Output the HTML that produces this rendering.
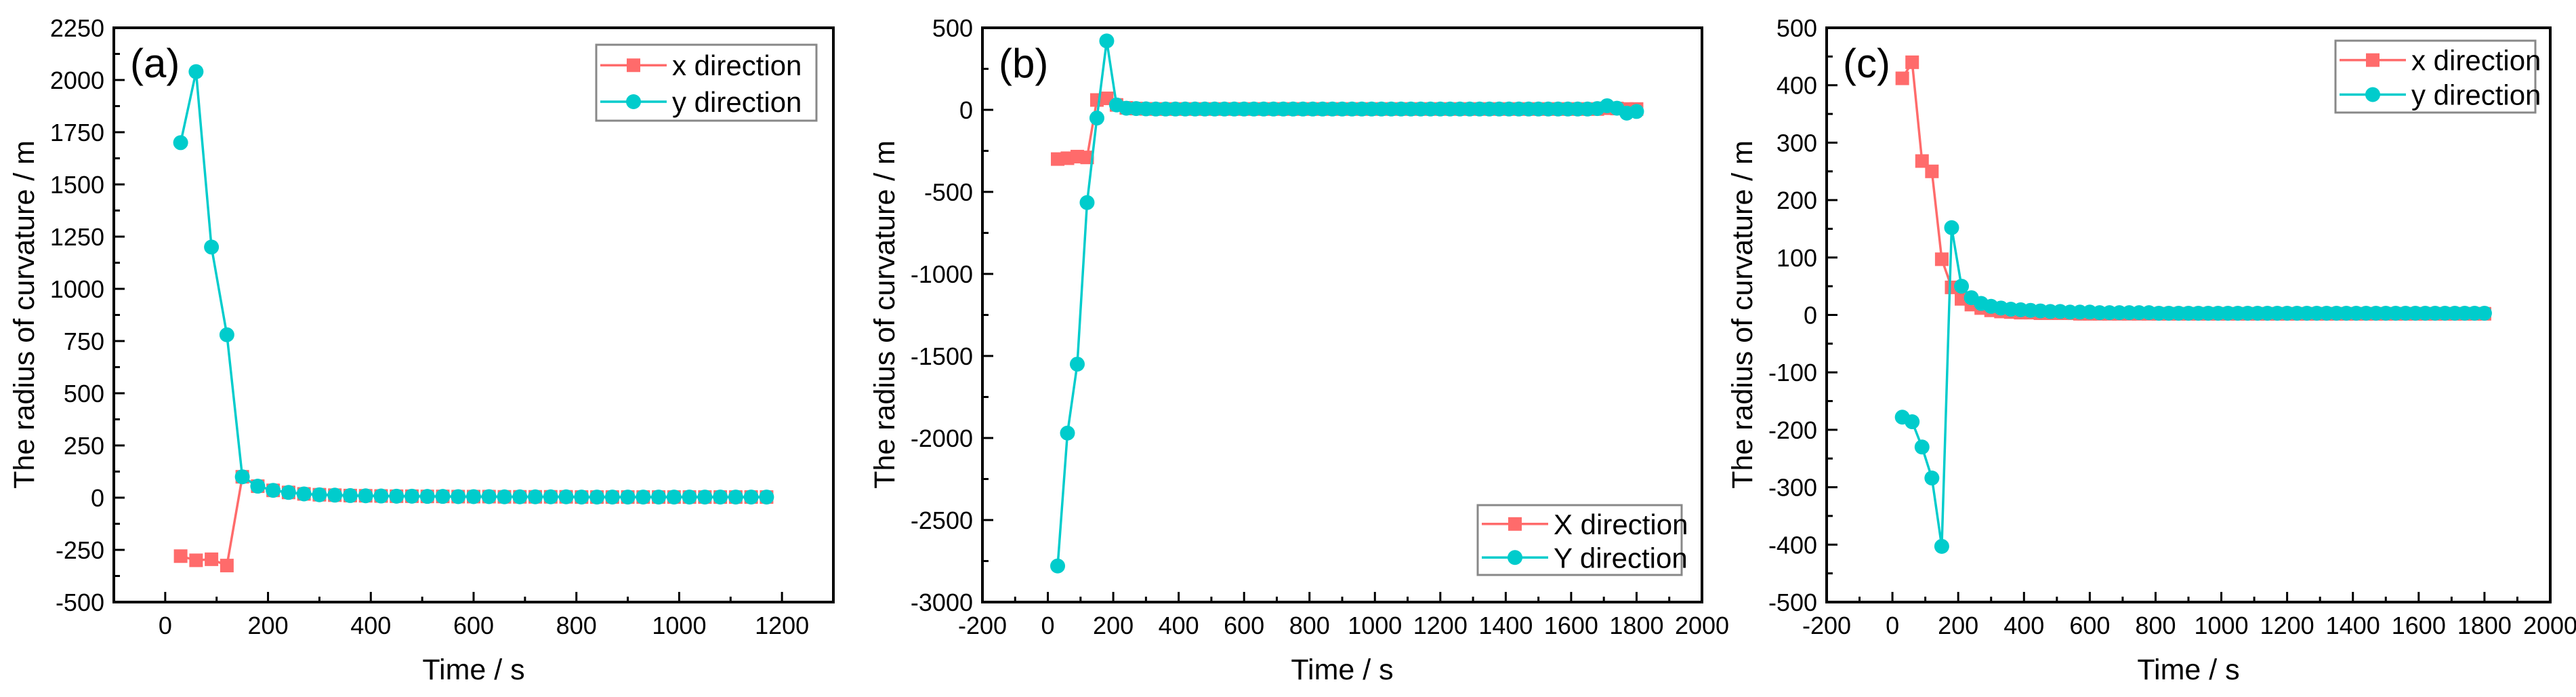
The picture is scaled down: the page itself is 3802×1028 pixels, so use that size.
<!DOCTYPE html>
<html><head><meta charset="utf-8"><style>
html,body{margin:0;padding:0;background:#fff;overflow:hidden;}
svg{display:block;}
text{font-family:"Liberation Sans",Arial,sans-serif;fill:#000;}
</style></head>
<body>
<svg id="fig" width="3802" height="1028" viewBox="0 0 3802 1028" xmlns="http://www.w3.org/2000/svg"></svg>
<script>
// ---- data ----
const timeA = [30,60,90,120,150,180,210,240,270,300,330,360,390,420,450,480,510,540,570,600,630,660,690,720,750,780,810,840,870,900,930,960,990,1020,1050,1080,1110,1140,1170];
const aX = [-280,-300,-295,-325,100,55,35,25,18,14,12,10,9,8,7,7,6,6,5,5,5,4,4,4,4,4,3,3,3,3,3,3,3,3,3,3,3,3,3];
const aY = [1700,2040,1200,780,100,55,35,25,18,14,12,10,9,8,7,7,6,6,5,5,5,4,4,4,4,4,3,3,3,3,3,3,3,3,3,3,3,3,3];

const timeBC = [30,60,90,120,150,180,210,240,270,300,330,360,390,420,450,480,510,540,570,600,630,660,690,720,750,780,810,840,870,900,930,960,990,1020,1050,1080,1110,1140,1170,1200,1230,1260,1290,1320,1350,1380,1410,1440,1470,1500,1530,1560,1590,1620,1650,1680,1710,1740,1770,1800];
const bX = [-300,-295,-285,-290,60,70,30,12,8,6,5,5,5,5,5,5,5,5,5,5,5,5,5,5,5,5,5,5,5,5,5,5,5,5,5,5,5,5,5,5,5,5,5,5,5,5,5,5,5,5,5,5,5,5,5,5,10,8,5,5];
const bY = [-2780,-1970,-1550,-565,-50,420,30,10,8,6,5,5,5,5,5,5,5,5,5,5,5,5,5,5,5,5,5,5,5,5,5,5,5,5,5,5,5,5,5,5,5,5,5,5,5,5,5,5,5,5,5,5,5,5,5,8,25,10,-20,-10];
const cX = [412,440,268,250,97,48,28,18,12,8,6,5,4,4,3,3,3,3,2,2,2,2,2,2,2,2,2,2,2,2,2,2,2,2,2,2,2,2,2,2,2,2,2,2,2,2,2,2,2,2,2,2,2,2,2,2,2,2,2,2];
const cY = [-178,-186,-230,-284,-403,152,50,30,20,15,12,10,9,8,7,6,6,5,5,5,4,4,4,4,4,4,3,3,3,3,3,3,3,3,3,3,3,3,3,3,3,3,3,3,3,3,3,3,3,3,3,3,3,3,3,3,3,3,3,3];

const ticksA_x = [0,200,400,600,800,1000,1200];
const ticksA_y = [-500,-250,0,250,500,750,1000,1250,1500,1750,2000,2250];
const ticksBC_x = [-200,0,200,400,600,800,1000,1200,1400,1600,1800,2000];
const ticksB_y = [-3000,-2500,-2000,-1500,-1000,-500,0,500];
const ticksC_y = [-500,-400,-300,-200,-100,0,100,200,300,400,500];

const RED = '#FF6B6B', CYAN = '#00CCCC';
const NS = 'http://www.w3.org/2000/svg';
const svg = document.getElementById('fig');
function mk(tag, attrs, parent){ const e=document.createElementNS(NS,tag); for(const k in attrs) e.setAttribute(k,attrs[k]); (parent||svg).appendChild(e); return e; }

function panel(cfg){
  const g = mk('g',{});
  
  
  const L=cfg.left,R=cfg.right,T=41,B=888;
  const sx = v => L + (v-cfg.xmin)/(cfg.xmax-cfg.xmin)*(R-L);
  const sy = v => B - (v-cfg.ymin)/(cfg.ymax-cfg.ymin)*(B-T);
  const tg = mk('g',{},g);
  
  
  const xstep = cfg.xt[1]-cfg.xt[0];
  cfg.xt.forEach((v,i)=>{
    const x=sx(v);
    mk('line',{x1:x,x2:x,y1:B,y2:B-15,stroke:'#000','stroke-width':3},tg);
    if(i<cfg.xt.length-1){ const xm=sx(v+xstep/2); mk('line',{x1:xm,x2:xm,y1:B,y2:B-8,stroke:'#000','stroke-width':3},tg); }
    const t=mk('text',{x:x,y:935,'font-size':36,'text-anchor':'middle'},tg);
    t.textContent=v;
    
    
  });
  if(cfg.id==='a'){ const xm=sx(-100); mk('line',{x1:xm,x2:xm,y1:B,y2:B-8,stroke:'#000','stroke-width':3},tg); }
  const yg = mk('g',{},g);
  
  
  const ystep = cfg.yt[1]-cfg.yt[0];
  cfg.yt.forEach((v,i)=>{
    const y=sy(v);
    mk('line',{x1:L,x2:L+16,y1:y,y2:y,stroke:'#000','stroke-width':3},yg);
    if(i<cfg.yt.length-1){ const ym=sy(v+ystep/2); mk('line',{x1:L,x2:L+9,y1:ym,y2:ym,stroke:'#000','stroke-width':3},yg); }
    const t=mk('text',{x:L-14,y:y+13,'font-size':36,'text-anchor':'end'},yg);
    t.textContent=v;
    
    
  });
  function series(xs,ys,color,shape,name){
    const sg=mk('g',{},g);
    
    
    mk('polyline',{points:xs.map((x,i)=>sx(x)+','+sy(ys[i])).join(' '),fill:'none',stroke:color,'stroke-width':3.5},sg);
    xs.forEach((x,i)=>{
      const px=sx(x),py=sy(ys[i]);
      let m;
      if(shape==='sq') m=mk('rect',{x:px-10,y:py-10,width:20,height:20,fill:color},sg);
      else m=mk('circle',{cx:px,cy:py,r:11,fill:color},sg);
      
      
    });
  }
  series(cfg.time,cfg.x,RED,'sq','series-x-direction');
  series(cfg.time,cfg.y,CYAN,'ci','series-y-direction');
  const fr=mk('rect',{x:L,y:T,width:R-L,height:B-T,fill:'none',stroke:'#000','stroke-width':4},g);
  
  
  const xt=mk('text',{x:(L+R)/2,y:1002,'font-size':43,'text-anchor':'middle'},g);
  xt.textContent='Time / s';
  
  
  const yx=cfg.ytitleX, yc=464;
  const yt=mk('text',{x:yx,y:yc,'font-size':43,'text-anchor':'middle',transform:`rotate(-90 ${yx} ${yc})`},g);
  yt.textContent='The radius of curvature / m';
  
  
  const pl=mk('text',{x:L+24,y:114,'font-size':60},g);
  pl.textContent='('+cfg.id+')';
  
  
  const lg=mk('g',{},g);
  
  
  const [lx,ly,lw,lh]=cfg.leg;
  mk('rect',{x:lx,y:ly,width:lw,height:lh,fill:'#fff',stroke:'#888','stroke-width':3},lg);
  [[RED,'sq',cfg.names[0]],[CYAN,'ci',cfg.names[1]]].forEach((d,i)=>{
    const cy=ly+lh*(i?0.75:0.27);
    const e=mk('g',{},lg);
    
    
    mk('line',{x1:lx+6,x2:lx+104,y1:cy,y2:cy,stroke:d[0],'stroke-width':3.5},e);
    if(d[1]==='sq') mk('rect',{x:lx+45,y:cy-10,width:20,height:20,fill:d[0]},e);
    else mk('circle',{cx:lx+55,cy:cy,r:11,fill:d[0]},e);
    const t=mk('text',{x:lx+112,y:cy+15,'font-size':42},e);
    t.textContent=d[2];
  });
}

panel({id:'a',left:168,right:1230,xmin:-100,xmax:1300,ymin:-500,ymax:2250,xt:ticksA_x,yt:ticksA_y,time:timeA,x:aX,y:aY,ytitleX:50,leg:[880,66,325,112],names:['x direction','y direction']});
panel({id:'b',left:1450,right:2512,xmin:-200,xmax:2000,ymin:-3000,ymax:500,xt:ticksBC_x,yt:ticksB_y,time:timeBC,x:bX,y:bY,ytitleX:1320,leg:[2181,745,301,103],names:['X direction','Y direction']});
panel({id:'c',left:2696,right:3764,xmin:-200,xmax:2000,ymin:-500,ymax:500,xt:ticksBC_x,yt:ticksC_y,time:timeBC,x:cX,y:cY,ytitleX:2586,leg:[3447,60,295,106],names:['x direction','y direction']});
</script>
</body></html>
